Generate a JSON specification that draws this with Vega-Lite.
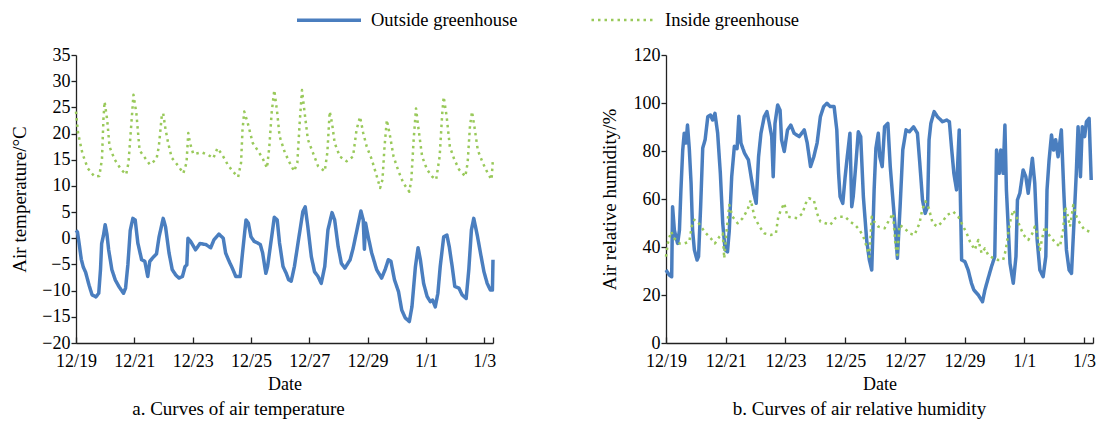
{
"$schema": "https://vega.github.io/schema/vega-lite/v6.json",
"background": "white",
"padding": {"left": 10, "top": -14, "right": 3, "bottom": 3},
"datasets": {
"temperature": [
{"series":"Outside greenhouse","day":0,"value":1.5},{"series":"Outside greenhouse","day":0.05,"value":1.2},{"series":"Outside greenhouse","day":0.12,"value":-1.5},{"series":"Outside greenhouse","day":0.18,"value":-4.0},{"series":"Outside greenhouse","day":0.25,"value":-5.5},{"series":"Outside greenhouse","day":0.33,"value":-6.5},{"series":"Outside greenhouse","day":0.45,"value":-9.0},{"series":"Outside greenhouse","day":0.55,"value":-10.8},{"series":"Outside greenhouse","day":0.68,"value":-11.2},{"series":"Outside greenhouse","day":0.78,"value":-10.5},{"series":"Outside greenhouse","day":0.84,"value":-6.0},{"series":"Outside greenhouse","day":0.88,"value":-1.0},{"series":"Outside greenhouse","day":0.94,"value":0.5},{"series":"Outside greenhouse","day":1.0,"value":2.6},{"series":"Outside greenhouse","day":1.06,"value":0.8},{"series":"Outside greenhouse","day":1.12,"value":-2.2},{"series":"Outside greenhouse","day":1.23,"value":-6.0},{"series":"Outside greenhouse","day":1.35,"value":-8.0},{"series":"Outside greenhouse","day":1.48,"value":-9.3},{"series":"Outside greenhouse","day":1.63,"value":-10.5},{"series":"Outside greenhouse","day":1.70,"value":-9.5},{"series":"Outside greenhouse","day":1.78,"value":-5.0},{"series":"Outside greenhouse","day":1.86,"value":1.5},{"series":"Outside greenhouse","day":1.95,"value":3.8},{"series":"Outside greenhouse","day":2.03,"value":3.5},{"series":"Outside greenhouse","day":2.12,"value":-0.9},{"series":"Outside greenhouse","day":2.25,"value":-4.1},{"series":"Outside greenhouse","day":2.36,"value":-4.4},{"series":"Outside greenhouse","day":2.46,"value":-7.3},{"series":"Outside greenhouse","day":2.53,"value":-4.4},{"series":"Outside greenhouse","day":2.67,"value":-3.5},{"series":"Outside greenhouse","day":2.76,"value":-3.0},{"series":"Outside greenhouse","day":2.85,"value":0.3},{"series":"Outside greenhouse","day":2.99,"value":3.8},{"series":"Outside greenhouse","day":3.07,"value":2.2},{"series":"Outside greenhouse","day":3.19,"value":-2.8},{"series":"Outside greenhouse","day":3.30,"value":-6.0},{"series":"Outside greenhouse","day":3.42,"value":-7.0},{"series":"Outside greenhouse","day":3.53,"value":-7.6},{"series":"Outside greenhouse","day":3.65,"value":-7.3},{"series":"Outside greenhouse","day":3.74,"value":-5.4},{"series":"Outside greenhouse","day":3.80,"value":-5.1},{"series":"Outside greenhouse","day":3.84,"value":0.0},{"series":"Outside greenhouse","day":3.92,"value":-0.5},{"series":"Outside greenhouse","day":4.10,"value":-2.2},{"series":"Outside greenhouse","day":4.25,"value":-1.0},{"series":"Outside greenhouse","day":4.45,"value":-1.2},{"series":"Outside greenhouse","day":4.62,"value":-1.8},{"series":"Outside greenhouse","day":4.73,"value":-0.3},{"series":"Outside greenhouse","day":4.90,"value":0.8},{"series":"Outside greenhouse","day":5.05,"value":0.0},{"series":"Outside greenhouse","day":5.13,"value":-2.8},{"series":"Outside greenhouse","day":5.25,"value":-4.4},{"series":"Outside greenhouse","day":5.36,"value":-5.7},{"series":"Outside greenhouse","day":5.48,"value":-7.3},{"series":"Outside greenhouse","day":5.63,"value":-7.3},{"series":"Outside greenhouse","day":5.71,"value":-2.8},{"series":"Outside greenhouse","day":5.83,"value":3.5},{"series":"Outside greenhouse","day":5.91,"value":2.9},{"series":"Outside greenhouse","day":6.0,"value":0.3},{"series":"Outside greenhouse","day":6.11,"value":-0.6},{"series":"Outside greenhouse","day":6.23,"value":-0.9},{"series":"Outside greenhouse","day":6.32,"value":-1.2},{"series":"Outside greenhouse","day":6.40,"value":-2.8},{"series":"Outside greenhouse","day":6.51,"value":-6.7},{"series":"Outside greenhouse","day":6.57,"value":-5.4},{"series":"Outside greenhouse","day":6.71,"value":0.3},{"series":"Outside greenhouse","day":6.80,"value":4.0},{"series":"Outside greenhouse","day":6.90,"value":3.5},{"series":"Outside greenhouse","day":6.98,"value":-0.9},{"series":"Outside greenhouse","day":7.10,"value":-5.4},{"series":"Outside greenhouse","day":7.21,"value":-6.7},{"series":"Outside greenhouse","day":7.29,"value":-7.9},{"series":"Outside greenhouse","day":7.38,"value":-8.2},{"series":"Outside greenhouse","day":7.49,"value":-5.4},{"series":"Outside greenhouse","day":7.63,"value":-0.3},{"series":"Outside greenhouse","day":7.78,"value":5.1},{"series":"Outside greenhouse","day":7.86,"value":6.0},{"series":"Outside greenhouse","day":7.95,"value":2.2},{"series":"Outside greenhouse","day":8.07,"value":-3.5},{"series":"Outside greenhouse","day":8.18,"value":-6.4},{"series":"Outside greenhouse","day":8.30,"value":-7.3},{"series":"Outside greenhouse","day":8.41,"value":-8.6},{"series":"Outside greenhouse","day":8.53,"value":-5.4},{"series":"Outside greenhouse","day":8.64,"value":1.6},{"series":"Outside greenhouse","day":8.78,"value":4.9},{"series":"Outside greenhouse","day":8.87,"value":3.5},{"series":"Outside greenhouse","day":8.99,"value":-1.6},{"series":"Outside greenhouse","day":9.10,"value":-4.8},{"series":"Outside greenhouse","day":9.22,"value":-5.7},{"series":"Outside greenhouse","day":9.40,"value":-4.1},{"series":"Outside greenhouse","day":9.50,"value":-2.0},{"series":"Outside greenhouse","day":9.65,"value":2.0},{"series":"Outside greenhouse","day":9.77,"value":5.2},{"series":"Outside greenhouse","day":9.85,"value":3.5},{"series":"Outside greenhouse","day":9.89,"value":-2.1},{"series":"Outside greenhouse","day":9.93,"value":2.9},{"series":"Outside greenhouse","day":10.02,"value":0.3},{"series":"Outside greenhouse","day":10.14,"value":-2.8},{"series":"Outside greenhouse","day":10.31,"value":-6.0},{"series":"Outside greenhouse","day":10.48,"value":-7.6},{"series":"Outside greenhouse","day":10.60,"value":-6.0},{"series":"Outside greenhouse","day":10.71,"value":-4.1},{"series":"Outside greenhouse","day":10.80,"value":-4.4},{"series":"Outside greenhouse","day":10.92,"value":-7.9},{"series":"Outside greenhouse","day":11.06,"value":-10.2},{"series":"Outside greenhouse","day":11.17,"value":-13.7},{"series":"Outside greenhouse","day":11.29,"value":-15.2},{"series":"Outside greenhouse","day":11.43,"value":-15.9},{"series":"Outside greenhouse","day":11.52,"value":-13.1},{"series":"Outside greenhouse","day":11.64,"value":-5.4},{"series":"Outside greenhouse","day":11.73,"value":-1.8},{"series":"Outside greenhouse","day":11.81,"value":-4.1},{"series":"Outside greenhouse","day":11.92,"value":-8.6},{"series":"Outside greenhouse","day":12.04,"value":-11.1},{"series":"Outside greenhouse","day":12.15,"value":-12.1},{"series":"Outside greenhouse","day":12.23,"value":-11.8},{"series":"Outside greenhouse","day":12.32,"value":-13.1},{"series":"Outside greenhouse","day":12.41,"value":-10.5},{"series":"Outside greenhouse","day":12.49,"value":-5.4},{"series":"Outside greenhouse","day":12.61,"value":0.3},{"series":"Outside greenhouse","day":12.72,"value":0.6},{"series":"Outside greenhouse","day":12.80,"value":-1.6},{"series":"Outside greenhouse","day":12.90,"value":-5.4},{"series":"Outside greenhouse","day":12.99,"value":-9.2},{"series":"Outside greenhouse","day":13.13,"value":-9.5},{"series":"Outside greenhouse","day":13.24,"value":-10.8},{"series":"Outside greenhouse","day":13.38,"value":-11.5},{"series":"Outside greenhouse","day":13.47,"value":-6.0},{"series":"Outside greenhouse","day":13.56,"value":1.6},{"series":"Outside greenhouse","day":13.64,"value":3.8},{"series":"Outside greenhouse","day":13.76,"value":0.6},{"series":"Outside greenhouse","day":13.87,"value":-2.8},{"series":"Outside greenhouse","day":13.99,"value":-6.4},{"series":"Outside greenhouse","day":14.10,"value":-8.6},{"series":"Outside greenhouse","day":14.21,"value":-9.9},{"series":"Outside greenhouse","day":14.28,"value":-9.9},{"series":"Outside greenhouse","day":14.30,"value":-4.1},
{"series":"Inside greenhouse","day":0,"value":24.2},{"series":"Inside greenhouse","day":0.07,"value":20.1},{"series":"Inside greenhouse","day":0.22,"value":16.2},{"series":"Inside greenhouse","day":0.40,"value":13.4},{"series":"Inside greenhouse","day":0.63,"value":11.8},{"series":"Inside greenhouse","day":0.80,"value":11.9},{"series":"Inside greenhouse","day":0.89,"value":15.1},{"series":"Inside greenhouse","day":0.94,"value":22.6},{"series":"Inside greenhouse","day":0.98,"value":26.1},{"series":"Inside greenhouse","day":1.07,"value":22.6},{"series":"Inside greenhouse","day":1.15,"value":17.5},{"series":"Inside greenhouse","day":1.32,"value":15.1},{"series":"Inside greenhouse","day":1.55,"value":13.1},{"series":"Inside greenhouse","day":1.72,"value":12.2},{"series":"Inside greenhouse","day":1.80,"value":14.4},{"series":"Inside greenhouse","day":1.90,"value":22.0},{"series":"Inside greenhouse","day":1.97,"value":27.4},{"series":"Inside greenhouse","day":2.07,"value":23.9},{"series":"Inside greenhouse","day":2.18,"value":16.8},{"series":"Inside greenhouse","day":2.36,"value":15.4},{"series":"Inside greenhouse","day":2.53,"value":14.1},{"series":"Inside greenhouse","day":2.76,"value":15.1},{"series":"Inside greenhouse","day":2.84,"value":17.5},{"series":"Inside greenhouse","day":2.94,"value":23.3},{"series":"Inside greenhouse","day":2.99,"value":23.9},{"series":"Inside greenhouse","day":3.07,"value":20.8},{"series":"Inside greenhouse","day":3.16,"value":18.2},{"series":"Inside greenhouse","day":3.28,"value":15.4},{"series":"Inside greenhouse","day":3.51,"value":13.8},{"series":"Inside greenhouse","day":3.68,"value":12.4},{"series":"Inside greenhouse","day":3.79,"value":14.4},{"series":"Inside greenhouse","day":3.85,"value":20.1},{"series":"Inside greenhouse","day":3.91,"value":18.2},{"series":"Inside greenhouse","day":4.02,"value":16.1},{"series":"Inside greenhouse","day":4.31,"value":16.4},{"series":"Inside greenhouse","day":4.54,"value":15.9},{"series":"Inside greenhouse","day":4.71,"value":15.3},{"series":"Inside greenhouse","day":4.85,"value":17.2},{"series":"Inside greenhouse","day":5.02,"value":15.9},{"series":"Inside greenhouse","day":5.20,"value":14.1},{"series":"Inside greenhouse","day":5.37,"value":12.8},{"series":"Inside greenhouse","day":5.56,"value":11.7},{"series":"Inside greenhouse","day":5.66,"value":14.4},{"series":"Inside greenhouse","day":5.71,"value":20.7},{"series":"Inside greenhouse","day":5.77,"value":24.2},{"series":"Inside greenhouse","day":5.89,"value":22.0},{"series":"Inside greenhouse","day":6.06,"value":18.2},{"series":"Inside greenhouse","day":6.23,"value":16.8},{"series":"Inside greenhouse","day":6.40,"value":15.3},{"series":"Inside greenhouse","day":6.55,"value":13.4},{"series":"Inside greenhouse","day":6.63,"value":17.5},{"series":"Inside greenhouse","day":6.71,"value":24.0},{"series":"Inside greenhouse","day":6.80,"value":28.3},{"series":"Inside greenhouse","day":6.90,"value":24.0},{"series":"Inside greenhouse","day":6.98,"value":19.5},{"series":"Inside greenhouse","day":7.16,"value":16.4},{"series":"Inside greenhouse","day":7.33,"value":14.4},{"series":"Inside greenhouse","day":7.48,"value":12.8},{"series":"Inside greenhouse","day":7.59,"value":14.4},{"series":"Inside greenhouse","day":7.67,"value":22.0},{"series":"Inside greenhouse","day":7.75,"value":28.3},{"series":"Inside greenhouse","day":7.84,"value":24.0},{"series":"Inside greenhouse","day":7.95,"value":18.9},{"series":"Inside greenhouse","day":8.12,"value":16.4},{"series":"Inside greenhouse","day":8.30,"value":13.8},{"series":"Inside greenhouse","day":8.53,"value":12.8},{"series":"Inside greenhouse","day":8.62,"value":16.4},{"series":"Inside greenhouse","day":8.70,"value":24.2},{"series":"Inside greenhouse","day":8.78,"value":22.0},{"series":"Inside greenhouse","day":8.87,"value":18.2},{"series":"Inside greenhouse","day":9.05,"value":15.6},{"series":"Inside greenhouse","day":9.28,"value":14.7},{"series":"Inside greenhouse","day":9.50,"value":15.6},{"series":"Inside greenhouse","day":9.62,"value":20.7},{"series":"Inside greenhouse","day":9.74,"value":23.2},{"series":"Inside greenhouse","day":9.85,"value":20.1},{"series":"Inside greenhouse","day":9.97,"value":17.5},{"series":"Inside greenhouse","day":10.14,"value":15.1},{"series":"Inside greenhouse","day":10.28,"value":12.5},{"series":"Inside greenhouse","day":10.43,"value":9.6},{"series":"Inside greenhouse","day":10.51,"value":11.2},{"series":"Inside greenhouse","day":10.58,"value":17.5},{"series":"Inside greenhouse","day":10.66,"value":22.6},{"series":"Inside greenhouse","day":10.77,"value":19.5},{"series":"Inside greenhouse","day":10.89,"value":15.6},{"series":"Inside greenhouse","day":11.06,"value":12.8},{"series":"Inside greenhouse","day":11.23,"value":10.5},{"series":"Inside greenhouse","day":11.43,"value":8.9},{"series":"Inside greenhouse","day":11.50,"value":11.2},{"series":"Inside greenhouse","day":11.58,"value":18.9},{"series":"Inside greenhouse","day":11.66,"value":24.8},{"series":"Inside greenhouse","day":11.75,"value":20.7},{"series":"Inside greenhouse","day":11.87,"value":15.6},{"series":"Inside greenhouse","day":12.04,"value":13.1},{"series":"Inside greenhouse","day":12.21,"value":11.8},{"series":"Inside greenhouse","day":12.35,"value":11.2},{"series":"Inside greenhouse","day":12.47,"value":15.6},{"series":"Inside greenhouse","day":12.56,"value":23.9},{"series":"Inside greenhouse","day":12.61,"value":27.0},{"series":"Inside greenhouse","day":12.71,"value":23.3},{"series":"Inside greenhouse","day":12.82,"value":17.5},{"series":"Inside greenhouse","day":12.97,"value":15.1},{"series":"Inside greenhouse","day":13.14,"value":13.1},{"series":"Inside greenhouse","day":13.35,"value":11.8},{"series":"Inside greenhouse","day":13.43,"value":14.4},{"series":"Inside greenhouse","day":13.51,"value":21.4},{"series":"Inside greenhouse","day":13.58,"value":24.2},{"series":"Inside greenhouse","day":13.66,"value":21.4},{"series":"Inside greenhouse","day":13.78,"value":16.8},{"series":"Inside greenhouse","day":13.95,"value":14.4},{"series":"Inside greenhouse","day":14.12,"value":12.4},{"series":"Inside greenhouse","day":14.25,"value":11.2},{"series":"Inside greenhouse","day":14.30,"value":15.3}
],
"humidity": [
{"series":"Outside greenhouse","day":0,"value":30.4},{"series":"Outside greenhouse","day":0.11,"value":28.3},{"series":"Outside greenhouse","day":0.19,"value":27.6},{"series":"Outside greenhouse","day":0.22,"value":56.8},{"series":"Outside greenhouse","day":0.28,"value":47.1},{"series":"Outside greenhouse","day":0.33,"value":44.3},{"series":"Outside greenhouse","day":0.39,"value":41.5},{"series":"Outside greenhouse","day":0.45,"value":47},{"series":"Outside greenhouse","day":0.50,"value":63.8},{"series":"Outside greenhouse","day":0.56,"value":80.4},{"series":"Outside greenhouse","day":0.61,"value":87.4},{"series":"Outside greenhouse","day":0.67,"value":83.3},{"series":"Outside greenhouse","day":0.72,"value":90.8},{"series":"Outside greenhouse","day":0.78,"value":81},{"series":"Outside greenhouse","day":0.84,"value":66.5},{"series":"Outside greenhouse","day":0.89,"value":47},{"series":"Outside greenhouse","day":0.95,"value":38.8},{"series":"Outside greenhouse","day":1.04,"value":34.6},{"series":"Outside greenhouse","day":1.09,"value":36},{"series":"Outside greenhouse","day":1.16,"value":56.8},{"series":"Outside greenhouse","day":1.23,"value":81.2},{"series":"Outside greenhouse","day":1.31,"value":84.7},{"series":"Outside greenhouse","day":1.40,"value":94.3},{"series":"Outside greenhouse","day":1.49,"value":95},{"series":"Outside greenhouse","day":1.56,"value":92.9},{"series":"Outside greenhouse","day":1.64,"value":95.7},{"series":"Outside greenhouse","day":1.73,"value":87.4},{"series":"Outside greenhouse","day":1.82,"value":70.7},{"series":"Outside greenhouse","day":1.90,"value":49.9},{"series":"Outside greenhouse","day":1.98,"value":38.8},{"series":"Outside greenhouse","day":2.06,"value":38},{"series":"Outside greenhouse","day":2.12,"value":47},{"series":"Outside greenhouse","day":2.20,"value":69.3},{"series":"Outside greenhouse","day":2.29,"value":82},{"series":"Outside greenhouse","day":2.38,"value":81},{"series":"Outside greenhouse","day":2.44,"value":94.5},{"series":"Outside greenhouse","day":2.51,"value":83.3},{"series":"Outside greenhouse","day":2.63,"value":79.1},{"series":"Outside greenhouse","day":2.76,"value":76.3},{"series":"Outside greenhouse","day":2.85,"value":69.3},{"series":"Outside greenhouse","day":2.94,"value":62.4},{"series":"Outside greenhouse","day":3.02,"value":58.2},{"series":"Outside greenhouse","day":3.10,"value":77.6},{"series":"Outside greenhouse","day":3.18,"value":87.4},{"series":"Outside greenhouse","day":3.29,"value":94.3},{"series":"Outside greenhouse","day":3.38,"value":96.4},{"series":"Outside greenhouse","day":3.46,"value":91.5},{"series":"Outside greenhouse","day":3.54,"value":86},{"series":"Outside greenhouse","day":3.59,"value":69.3},{"series":"Outside greenhouse","day":3.65,"value":91.5},{"series":"Outside greenhouse","day":3.74,"value":99.2},{"series":"Outside greenhouse","day":3.82,"value":97},{"series":"Outside greenhouse","day":3.87,"value":84.7},{"series":"Outside greenhouse","day":3.96,"value":79.8},{"series":"Outside greenhouse","day":4.07,"value":88.8},{"series":"Outside greenhouse","day":4.18,"value":90.8},{"series":"Outside greenhouse","day":4.29,"value":87.4},{"series":"Outside greenhouse","day":4.46,"value":86},{"series":"Outside greenhouse","day":4.63,"value":88.8},{"series":"Outside greenhouse","day":4.73,"value":83.3},{"series":"Outside greenhouse","day":4.84,"value":73.5},{"series":"Outside greenhouse","day":4.95,"value":77.6},{"series":"Outside greenhouse","day":5.06,"value":83.3},{"series":"Outside greenhouse","day":5.17,"value":94.3},{"series":"Outside greenhouse","day":5.28,"value":98.5},{"series":"Outside greenhouse","day":5.39,"value":99.9},{"series":"Outside greenhouse","day":5.50,"value":98.5},{"series":"Outside greenhouse","day":5.63,"value":98.5},{"series":"Outside greenhouse","day":5.72,"value":88.8},{"series":"Outside greenhouse","day":5.78,"value":70.7},{"series":"Outside greenhouse","day":5.83,"value":61},{"series":"Outside greenhouse","day":5.92,"value":58.2},{"series":"Outside greenhouse","day":6.0,"value":69.3},{"series":"Outside greenhouse","day":6.07,"value":77.6},{"series":"Outside greenhouse","day":6.16,"value":87.4},{"series":"Outside greenhouse","day":6.22,"value":56.8},{"series":"Outside greenhouse","day":6.27,"value":61},{"series":"Outside greenhouse","day":6.36,"value":74.9},{"series":"Outside greenhouse","day":6.44,"value":88},{"series":"Outside greenhouse","day":6.52,"value":86},{"series":"Outside greenhouse","day":6.61,"value":61},{"series":"Outside greenhouse","day":6.72,"value":42.9},{"series":"Outside greenhouse","day":6.81,"value":34.6},{"series":"Outside greenhouse","day":6.89,"value":30.4},{"series":"Outside greenhouse","day":6.97,"value":63.8},{"series":"Outside greenhouse","day":7.03,"value":81.2},{"series":"Outside greenhouse","day":7.11,"value":87.4},{"series":"Outside greenhouse","day":7.16,"value":77.6},{"series":"Outside greenhouse","day":7.24,"value":73.5},{"series":"Outside greenhouse","day":7.32,"value":90.1},{"series":"Outside greenhouse","day":7.43,"value":91.5},{"series":"Outside greenhouse","day":7.51,"value":73.5},{"series":"Outside greenhouse","day":7.60,"value":59.6},{"series":"Outside greenhouse","day":7.69,"value":45.7},{"series":"Outside greenhouse","day":7.75,"value":35.3},{"series":"Outside greenhouse","day":7.84,"value":56.8},{"series":"Outside greenhouse","day":7.93,"value":80.5},{"series":"Outside greenhouse","day":8.04,"value":88.8},{"series":"Outside greenhouse","day":8.15,"value":88},{"series":"Outside greenhouse","day":8.29,"value":90.1},{"series":"Outside greenhouse","day":8.42,"value":87.4},{"series":"Outside greenhouse","day":8.50,"value":74.9},{"series":"Outside greenhouse","day":8.59,"value":59.6},{"series":"Outside greenhouse","day":8.68,"value":54},{"series":"Outside greenhouse","day":8.76,"value":56.8},{"series":"Outside greenhouse","day":8.81,"value":84.7},{"series":"Outside greenhouse","day":8.87,"value":91.5},{"series":"Outside greenhouse","day":8.98,"value":96.4},{"series":"Outside greenhouse","day":9.09,"value":94.3},{"series":"Outside greenhouse","day":9.26,"value":92.2},{"series":"Outside greenhouse","day":9.40,"value":92.9},{"series":"Outside greenhouse","day":9.49,"value":92.2},{"series":"Outside greenhouse","day":9.56,"value":81.8},{"series":"Outside greenhouse","day":9.64,"value":70.7},{"series":"Outside greenhouse","day":9.73,"value":63.8},{"series":"Outside greenhouse","day":9.82,"value":88.8},{"series":"Outside greenhouse","day":9.86,"value":59.6},{"series":"Outside greenhouse","day":9.90,"value":34.6},{"series":"Outside greenhouse","day":10.01,"value":33.9},{"series":"Outside greenhouse","day":10.12,"value":30.4},{"series":"Outside greenhouse","day":10.23,"value":24.9},{"series":"Outside greenhouse","day":10.31,"value":22.1},{"series":"Outside greenhouse","day":10.46,"value":20},{"series":"Outside greenhouse","day":10.60,"value":17.2},{"series":"Outside greenhouse","day":10.68,"value":22.1},{"series":"Outside greenhouse","day":10.79,"value":27},{"series":"Outside greenhouse","day":10.90,"value":31.8},{"series":"Outside greenhouse","day":11.01,"value":36},{"series":"Outside greenhouse","day":11.07,"value":80.4},{"series":"Outside greenhouse","day":11.16,"value":70.7},{"series":"Outside greenhouse","day":11.21,"value":80.4},{"series":"Outside greenhouse","day":11.29,"value":70.7},{"series":"Outside greenhouse","day":11.35,"value":90.8},{"series":"Outside greenhouse","day":11.40,"value":63.8},{"series":"Outside greenhouse","day":11.52,"value":33.2},{"series":"Outside greenhouse","day":11.63,"value":24.9},{"series":"Outside greenhouse","day":11.72,"value":36},{"series":"Outside greenhouse","day":11.77,"value":59.6},{"series":"Outside greenhouse","day":11.85,"value":62.4},{"series":"Outside greenhouse","day":11.96,"value":72.1},{"series":"Outside greenhouse","day":12.05,"value":69.3},{"series":"Outside greenhouse","day":12.13,"value":62.4},{"series":"Outside greenhouse","day":12.21,"value":70.7},{"series":"Outside greenhouse","day":12.27,"value":77},{"series":"Outside greenhouse","day":12.35,"value":66.5},{"series":"Outside greenhouse","day":12.43,"value":42.9},{"series":"Outside greenhouse","day":12.52,"value":30.4},{"series":"Outside greenhouse","day":12.63,"value":27.6},{"series":"Outside greenhouse","day":12.72,"value":36},{"series":"Outside greenhouse","day":12.76,"value":63.8},{"series":"Outside greenhouse","day":12.83,"value":76.3},{"series":"Outside greenhouse","day":12.91,"value":86.7},{"series":"Outside greenhouse","day":12.98,"value":80.4},{"series":"Outside greenhouse","day":13.05,"value":84.7},{"series":"Outside greenhouse","day":13.13,"value":77.6},{"series":"Outside greenhouse","day":13.24,"value":88.8},{"series":"Outside greenhouse","day":13.32,"value":63.8},{"series":"Outside greenhouse","day":13.41,"value":38.8},{"series":"Outside greenhouse","day":13.50,"value":30.4},{"series":"Outside greenhouse","day":13.58,"value":29},{"series":"Outside greenhouse","day":13.65,"value":47},{"series":"Outside greenhouse","day":13.74,"value":70.7},{"series":"Outside greenhouse","day":13.80,"value":90.1},{"series":"Outside greenhouse","day":13.88,"value":69.3},{"series":"Outside greenhouse","day":13.94,"value":90.1},{"series":"Outside greenhouse","day":14.02,"value":86},{"series":"Outside greenhouse","day":14.08,"value":92.2},{"series":"Outside greenhouse","day":14.17,"value":93.6},{"series":"Outside greenhouse","day":14.24,"value":67.9},
{"series":"Inside greenhouse","day":0,"value":36},{"series":"Inside greenhouse","day":0.06,"value":41.5},{"series":"Inside greenhouse","day":0.17,"value":46.4},{"series":"Inside greenhouse","day":0.28,"value":43.6},{"series":"Inside greenhouse","day":0.45,"value":41.5},{"series":"Inside greenhouse","day":0.61,"value":41.5},{"series":"Inside greenhouse","day":0.78,"value":42.2},{"series":"Inside greenhouse","day":0.86,"value":48.5},{"series":"Inside greenhouse","day":0.95,"value":51.3},{"series":"Inside greenhouse","day":1.06,"value":50.6},{"series":"Inside greenhouse","day":1.17,"value":48.5},{"series":"Inside greenhouse","day":1.34,"value":45.7},{"series":"Inside greenhouse","day":1.50,"value":43.6},{"series":"Inside greenhouse","day":1.64,"value":41.5},{"series":"Inside greenhouse","day":1.79,"value":44.3},{"series":"Inside greenhouse","day":1.90,"value":45.7},{"series":"Inside greenhouse","day":1.95,"value":35.3},{"series":"Inside greenhouse","day":2.01,"value":44.3},{"series":"Inside greenhouse","day":2.12,"value":57.5},{"series":"Inside greenhouse","day":2.23,"value":52.6},{"series":"Inside greenhouse","day":2.40,"value":49.9},{"series":"Inside greenhouse","day":2.57,"value":52},{"series":"Inside greenhouse","day":2.73,"value":55.5},{"series":"Inside greenhouse","day":2.84,"value":59.6},{"series":"Inside greenhouse","day":2.96,"value":52.6},{"series":"Inside greenhouse","day":3.13,"value":48.5},{"series":"Inside greenhouse","day":3.29,"value":45.7},{"series":"Inside greenhouse","day":3.51,"value":45},{"series":"Inside greenhouse","day":3.68,"value":45.7},{"series":"Inside greenhouse","day":3.76,"value":52.6},{"series":"Inside greenhouse","day":3.85,"value":55.5},{"series":"Inside greenhouse","day":3.96,"value":58.2},{"series":"Inside greenhouse","day":4.07,"value":52.6},{"series":"Inside greenhouse","day":4.24,"value":52.3},{"series":"Inside greenhouse","day":4.40,"value":52},{"series":"Inside greenhouse","day":4.57,"value":54},{"series":"Inside greenhouse","day":4.68,"value":58.2},{"series":"Inside greenhouse","day":4.79,"value":60.3},{"series":"Inside greenhouse","day":4.95,"value":59.6},{"series":"Inside greenhouse","day":5.06,"value":54},{"series":"Inside greenhouse","day":5.17,"value":50.6},{"series":"Inside greenhouse","day":5.34,"value":49.9},{"series":"Inside greenhouse","day":5.50,"value":49.2},{"series":"Inside greenhouse","day":5.67,"value":52},{"series":"Inside greenhouse","day":5.83,"value":52.6},{"series":"Inside greenhouse","day":6.0,"value":52.6},{"series":"Inside greenhouse","day":6.16,"value":50.6},{"series":"Inside greenhouse","day":6.33,"value":49.2},{"series":"Inside greenhouse","day":6.48,"value":47.1},{"series":"Inside greenhouse","day":6.61,"value":44.3},{"series":"Inside greenhouse","day":6.72,"value":40.1},{"series":"Inside greenhouse","day":6.81,"value":36},{"series":"Inside greenhouse","day":6.89,"value":52.6},{"series":"Inside greenhouse","day":6.97,"value":50.6},{"series":"Inside greenhouse","day":7.11,"value":48.5},{"series":"Inside greenhouse","day":7.32,"value":47.8},{"series":"Inside greenhouse","day":7.51,"value":52},{"series":"Inside greenhouse","day":7.60,"value":54},{"series":"Inside greenhouse","day":7.69,"value":40.1},{"series":"Inside greenhouse","day":7.75,"value":36.7},{"series":"Inside greenhouse","day":7.82,"value":49.2},{"series":"Inside greenhouse","day":7.99,"value":47.8},{"series":"Inside greenhouse","day":8.15,"value":45.7},{"series":"Inside greenhouse","day":8.32,"value":45},{"series":"Inside greenhouse","day":8.49,"value":49.9},{"series":"Inside greenhouse","day":8.58,"value":55.5},{"series":"Inside greenhouse","day":8.69,"value":59},{"series":"Inside greenhouse","day":8.80,"value":56.2},{"series":"Inside greenhouse","day":8.93,"value":49.9},{"series":"Inside greenhouse","day":9.09,"value":48.5},{"series":"Inside greenhouse","day":9.26,"value":50.6},{"series":"Inside greenhouse","day":9.42,"value":53.3},{"series":"Inside greenhouse","day":9.51,"value":54},{"series":"Inside greenhouse","day":9.62,"value":54.7},{"series":"Inside greenhouse","day":9.79,"value":52.6},{"series":"Inside greenhouse","day":9.90,"value":49.9},{"series":"Inside greenhouse","day":10.07,"value":45.7},{"series":"Inside greenhouse","day":10.18,"value":42.2},{"series":"Inside greenhouse","day":10.34,"value":38.8},{"series":"Inside greenhouse","day":10.46,"value":42.9},{"series":"Inside greenhouse","day":10.57,"value":37.4},{"series":"Inside greenhouse","day":10.68,"value":39.4},{"series":"Inside greenhouse","day":10.79,"value":36.7},{"series":"Inside greenhouse","day":10.96,"value":35.3},{"series":"Inside greenhouse","day":11.12,"value":34.6},{"series":"Inside greenhouse","day":11.29,"value":34.6},{"series":"Inside greenhouse","day":11.38,"value":38.8},{"series":"Inside greenhouse","day":11.46,"value":45.7},{"series":"Inside greenhouse","day":11.54,"value":51.3},{"series":"Inside greenhouse","day":11.63,"value":55.4},{"series":"Inside greenhouse","day":11.74,"value":52.6},{"series":"Inside greenhouse","day":11.85,"value":48.5},{"series":"Inside greenhouse","day":11.98,"value":45},{"series":"Inside greenhouse","day":12.13,"value":42.9},{"series":"Inside greenhouse","day":12.27,"value":45.7},{"series":"Inside greenhouse","day":12.35,"value":48.5},{"series":"Inside greenhouse","day":12.43,"value":45.7},{"series":"Inside greenhouse","day":12.52,"value":38.8},{"series":"Inside greenhouse","day":12.61,"value":44.3},{"series":"Inside greenhouse","day":12.69,"value":48.5},{"series":"Inside greenhouse","day":12.86,"value":44.3},{"series":"Inside greenhouse","day":13.02,"value":42.2},{"series":"Inside greenhouse","day":13.19,"value":40.1},{"series":"Inside greenhouse","day":13.30,"value":47.1},{"series":"Inside greenhouse","day":13.36,"value":56.8},{"series":"Inside greenhouse","day":13.44,"value":54},{"series":"Inside greenhouse","day":13.53,"value":48.5},{"series":"Inside greenhouse","day":13.64,"value":57.5},{"series":"Inside greenhouse","day":13.75,"value":52.6},{"series":"Inside greenhouse","day":13.86,"value":49.9},{"series":"Inside greenhouse","day":14.02,"value":47.1},{"series":"Inside greenhouse","day":14.19,"value":46.4},{"series":"Inside greenhouse","day":14.26,"value":46}
]
},
"spacing": 104,
"hconcat": [
{
"width": 417, "height": 288,
"data": {"name": "temperature"},
"title": {"text": "a. Curves of air temperature", "orient": "bottom", "offset": 7, "dx": -46},
"mark": {"type": "line", "strokeCap": "butt", "strokeJoin": "round"},
"encoding": {
"x": {"field": "day", "type": "quantitative", "scale": {"domain": [0, 14.3], "nice": false, "zero": false},
"axis": {"title": "Date", "values": [0, 2, 4, 6, 8, 10, 12, 14, 14.3], "labelExpr": "datum.value > 14.1 ? '' : ['12/19','12/21','12/23','12/25','12/27','12/29','1/1','1/3'][round(datum.value/2)]"}},
"y": {"field": "value", "type": "quantitative", "scale": {"domain": [-20, 35], "nice": false, "zero": false},
"axis": {"title": "Air temperature/°C", "values": [-20, -15, -10, -5, 0, 5, 10, 15, 20, 25, 30, 35]}},
"color": {"field": "series", "type": "nominal", "scale": {"domain": ["Outside greenhouse", "Inside greenhouse"], "range": ["#4a7ebf", "#99c95a"]}, "legend": {"title": null}},
"strokeDash": {"field": "series", "type": "nominal", "scale": {"domain": ["Outside greenhouse", "Inside greenhouse"], "range": [[1, 0], [2.5, 4]]}, "legend": {"title": null}},
"strokeWidth": {"field": "series", "type": "ordinal", "scale": {"domain": ["Outside greenhouse", "Inside greenhouse"], "range": [3.5, 2.5]}, "legend": null}
}
},
{
"width": 427, "height": 288,
"data": {"name": "humidity"},
"title": {"text": "b. Curves of air relative humidity", "orient": "bottom", "offset": 7, "dx": -20},
"mark": {"type": "line", "strokeCap": "butt", "strokeJoin": "round"},
"encoding": {
"x": {"field": "day", "type": "quantitative", "scale": {"domain": [0, 14.3], "nice": false, "zero": false},
"axis": {"title": "Date", "values": [0, 2, 4, 6, 8, 10, 12, 14, 14.3], "labelExpr": "datum.value > 14.1 ? '' : ['12/19','12/21','12/23','12/25','12/27','12/29','1/1','1/3'][round(datum.value/2)]"}},
"y": {"field": "value", "type": "quantitative", "scale": {"domain": [0, 120], "nice": false, "zero": false},
"axis": {"title": "Air relative humidity/%", "values": [0, 20, 40, 60, 80, 100, 120], "titlePadding": 14}},
"color": {"field": "series", "type": "nominal", "scale": {"domain": ["Outside greenhouse", "Inside greenhouse"], "range": ["#4a7ebf", "#99c95a"]}, "legend": {"title": null}},
"strokeDash": {"field": "series", "type": "nominal", "scale": {"domain": ["Outside greenhouse", "Inside greenhouse"], "range": [[1, 0], [2.5, 4]]}, "legend": {"title": null}},
"strokeWidth": {"field": "series", "type": "ordinal", "scale": {"domain": ["Outside greenhouse", "Inside greenhouse"], "range": [3.5, 2.5]}, "legend": null}
}
}
],
"config": {
"view": {"stroke": null},
"font": "Liberation Serif",
"title": {"font": "Liberation Serif", "fontSize": 19, "fontWeight": "normal", "color": "#000000"},
"axis": {"grid": false, "domainColor": "#222222", "tickColor": "#222222", "domainWidth": 1.3, "tickWidth": 1.3, "labelColor": "#000000", "titleColor": "#000000", "labelFont": "Liberation Serif", "titleFont": "Liberation Serif", "labelFontSize": 18, "titleFontSize": 19, "titleFontWeight": "normal", "labelOverlap": false, "labelFlush": false},
"axisX": {"tickSize": -6, "labelPadding": 15, "titleFontSize": 18, "titlePadding": 5},
"axisY": {"tickSize": 5, "labelPadding": 1, "titlePadding": 12},
"legend": {"orient": "none", "legendX": 219, "legendY": -69, "direction": "horizontal", "symbolType": "stroke", "symbolSize": 4096, "symbolStrokeWidth": 3.5, "labelFont": "Liberation Serif", "labelFontSize": 18.5, "labelColor": "#000000", "labelOffset": 8, "columnPadding": 68, "labelLimit": 300}
}
}
